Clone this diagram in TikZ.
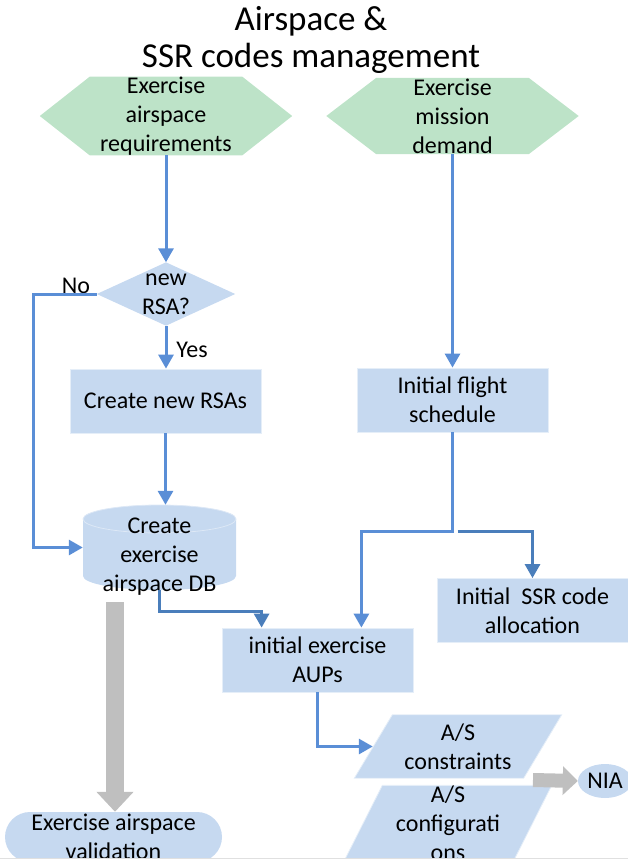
\documentclass[tikz,border=0pt]{standalone}
\usepackage{fontspec}
\setmainfont{Carlito}
\usetikzlibrary{arrows.meta,shapes.geometric,backgrounds,calc}
\definecolor{boxblue}{HTML}{C6D9F0}
\definecolor{hexgreen}{HTML}{BDE3C8}
\definecolor{lineblue}{HTML}{5A8ED6}
\definecolor{lineblueB}{HTML}{4A7EBB}
\definecolor{greyarrow}{HTML}{BFBFBF}
\tikzset{
  txt/.style={font=\fontsize{24}{29}\selectfont, align=center, inner sep=0pt},
  procbox/.style={txt, rectangle, fill=boxblue, draw=white!55!boxblue, line width=0.8pt,
    minimum width=191pt, minimum height=64pt},
  frame/.style={txt, rectangle, minimum width=#1},
  flow/.style={draw=lineblue, line width=3pt, -{Triangle[width=15pt,length=14pt]}},
  flowB/.style={flow, draw=lineblueB},
  bigarrow/.style={draw=greyarrow, line width=#1},
  shapefill/.style={fill=boxblue, draw=white!55!boxblue, line width=0.8pt},
  hexfill/.style={fill=hexgreen}
}
\begin{document}
\begin{tikzpicture}[x=1pt,y=-1pt]
\useasboundingbox (0,0) rectangle (628,860);

% title
\node[txt, font=\fontsize{35}{37}\selectfont] (title) at (311,39.5) {Airspace \&\\SSR codes management};

% hexagons (frames)
\node[frame=252pt, minimum height=76pt] (hex1) at (166,116) {Exercise\\airspace\\requirements};
\node[frame=252pt, minimum height=76pt] (hex2) at (452.5,116) {Exercise\\mission\\demand};

% diamond
\node[frame=138pt, minimum height=63pt] (dia) at (166,294) {new\\RSA?};

% boxes
\node[procbox] (rsa) at (165.5,401) {Create new RSAs};
\node[procbox] (flight) at (452.5,400) {Initial flight\\schedule};
\node[procbox] (ssr) at (532.5,610.5) {Initial\ \ SSR code\\allocation};
\node[procbox] (aup) at (317.5,660) {initial exercise\\AUPs};

% cylinder
\node[frame=153pt, minimum height=85pt] (cyl) at (159.5,547.5) {};
\node[txt] (cyltext) at (159.5,557) {Create\\exercise\\airspace DB};

% parallelograms
\node[frame=169pt, minimum height=63pt] (cons) at (458,746.5) {A/S\\constraints};
\node[frame=169pt, minimum height=62pt] (conf) at (448,823) {A/S\\configurati\\ons};

% validation
\node[txt, rectangle, fill=boxblue, rounded corners=25pt, minimum width=217pt, minimum height=50pt] (val) at (113.5,837) {Exercise airspace\\validation};

% NIA
\node[txt, ellipse, fill=boxblue, minimum width=54pt, minimum height=34pt] (nia) at (605,781) {NIA};

% labels
\node[txt] (no) at (76,286) {No};
\node[txt] (yes) at (192,350) {Yes};

\begin{scope}[on background layer]
  \fill[hexfill] (hex1.west) -- ($(hex1.north west)+(50,0)$) -- ($(hex1.north east)+(-50,0)$) -- (hex1.east)
     -- ($(hex1.south east)+(-50,0)$) -- ($(hex1.south west)+(50,0)$) -- cycle;
  \fill[hexfill] (hex2.west) -- ($(hex2.north west)+(50,0)$) -- ($(hex2.north east)+(-50,0)$) -- (hex2.east)
     -- ($(hex2.south east)+(-50,0)$) -- ($(hex2.south west)+(50,0)$) -- cycle;
  \fill[boxblue] (dia.west) -- (dia.north) -- (dia.east) -- (dia.south) -- cycle;
  \path[shapefill] ($(cons.north west)+(19,0)$) -- ($(cons.north east)+(19,0)$) -- ($(cons.south east)+(-19,0)$) -- ($(cons.south west)+(-19,0)$) -- cycle;
  \path[shapefill] ($(conf.north west)+(19,0)$) -- ($(conf.north east)+(19,0)$) -- ($(conf.south east)+(-19,0)$) -- ($(conf.south west)+(-19,0)$) -- cycle;
  \fill[boxblue] (83,519) -- (83,576) arc[start angle=180, end angle=360, x radius=76.5pt, y radius=14pt]
     -- (236,519) arc[start angle=0, end angle=180, x radius=76.5pt, y radius=14pt] -- cycle;
  \draw[white!40!boxblue, line width=0.8pt] (159.5,519) ellipse[x radius=76.5pt, y radius=14pt];
\end{scope}

% connectors
\draw[flow] (hex1.south) -- (dia.north);
\draw[flow] (hex2.south) -- (flight.north);
\draw[flow] (dia.south) -- (dia.south |- rsa.north);
\draw[flow] (dia.west) -- ++(-63,0) |- (cyl.west);
\draw[flow] (rsa.south) -- (rsa.south |- cyl.north);
\draw[flowB] (cyl.south) -- ++(0,21) -| ($(aup.north west)+(40,0)$);
\draw[flow] (flight.south) -- ++(0,99) -| ($(aup.north east)+(-52,0)$);
\draw[flowB] ($(flight.south)+(5,99)$) -| (ssr.north);
\draw[flow] (aup.south) |- ($(cons.west)+(-0.5,0)$);

% grey block arrows
\coordinate (vstart) at (115,602);
\draw[bigarrow=18pt, -{Triangle[width=36pt,length=20pt]}] (vstart) -- (vstart |- val.north);
\coordinate (hstart) at (533,780);
\draw[bigarrow=14pt, -{Triangle[width=28pt,length=15pt]}] (hstart) -- (nia.west);

% bottom crop line
\fill[white] (0,858) rectangle (628,860);
\draw[black!12, line width=1pt] (0,858) -- (628,858);
\end{tikzpicture}
\end{document}
